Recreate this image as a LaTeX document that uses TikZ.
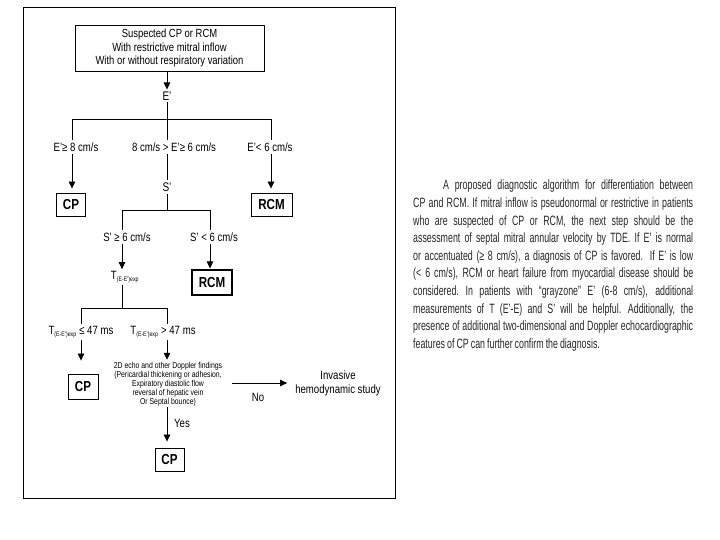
\documentclass[tikz,border=0pt]{standalone}
\usepackage{fontspec}
\setmainfont{Liberation Sans}
\newfontfamily\nar{Liberation Sans}[FakeStretch=0.8]
\newfontfamily\para{Liberation Sans}[FakeStretch=0.655]
\usetikzlibrary{arrows.meta}
\newcommand{\jline}[2][280pt]{{\spaceskip=0.15em plus 1fil\relax\makebox[#1][s]{#2}}\par}
\begin{document}
\begin{tikzpicture}[x=1pt,y=-1pt,
  lbl/.style={font=\nar\fontsize{12}{14}\selectfont, inner sep=2pt},
  res/.style={draw, line width=0.9pt, font=\nar\bfseries\fontsize{14.5}{16}\selectfont, minimum height=23pt, inner sep=0pt},
  arr/.style={-{Triangle[length=7pt,width=6.5pt]}, line width=0.7pt},
  ln/.style={line width=0.7pt}]
\useasboundingbox (0,0) rectangle (720,540);
\fill[white] (0,0) rectangle (720,540);
\draw[line width=0.8pt] (23,7) rectangle (395,498);

\node[draw, line width=0.8pt, minimum width=189pt, minimum height=46pt, align=center,
  font=\nar\fontsize{11.8}{13.5}\selectfont, inner sep=0pt] (top) at (169.5,48)
  {Suspected CP or RCM\\With restrictive mitral inflow\\With or without respiratory variation};

\node[lbl, font=\nar\fontsize{12.5}{14}\selectfont] (E) at (167,96) {E’};
\coordinate (j1) at (167,119);
\coordinate (j1l) at (72,119);
\coordinate (j1r) at (271,119);
\node[lbl] (c1) at (76,147) {E’≥ 8 cm/s};
\node[lbl] (c2) at (174,147) {8 cm/s > E’≥ 6 cm/s};
\node[lbl] (c3) at (270,147) {E’< 6 cm/s};
\node[res, minimum width=29pt] (cp1) at (71,204.5) {CP};
\node[res, minimum width=41pt] (rcm1) at (271.5,204.5) {RCM};
\node[lbl, font=\nar\fontsize{12.5}{14}\selectfont] (S) at (167,187) {S’};

\draw[arr] (top.south -| E) -- (E.north);
\draw[ln] (E.south) -- (j1);
\draw[ln] (j1l) -- (j1r);
\draw[ln] (j1l) -- (c1.north -| j1l);
\draw[ln] (j1r) -- (c3.north -| j1r);
\draw[ln] (j1) -- (c2.north -| j1);
\draw[arr, shorten >=4pt] (c1.south -| j1l) -- (cp1.north -| j1l);
\draw[arr, shorten >=4pt] (c3.south -| j1r) -- (rcm1.north -| j1r);
\draw[ln] (c2.south -| j1) -- (S.north);

\coordinate (j2) at (167,210);
\coordinate (j2l) at (122,210);
\coordinate (j2r) at (210,210);
\node[lbl] (s1) at (127,237) {S’ ≥ 6 cm/s};
\node[lbl] (s2) at (214,237) {S’ < 6 cm/s};
\node[lbl] (T) at (125,277) {T\textsubscript{\fontsize{6.5}{7}\selectfont(E-E’)exp}};
\node[res, minimum width=40pt, minimum height=25pt, line width=1.1pt] (rcm2) at (212,282.5) {RCM};

\draw[ln] (S.south) -- (j2);
\draw[ln] (j2l) -- (j2r);
\draw[ln] (j2l) -- (s1.north -| j2l);
\draw[ln] (j2r) -- (s2.north -| j2r);
\draw[arr] (s1.south -| j2l) -- (T.north -| j2l);
\draw[arr, shorten >=1pt] (s2.south -| j2r) -- (rcm2.north -| j2r);

\coordinate (j3) at (122,308);
\coordinate (j3l) at (81,308);
\coordinate (j3r) at (167,308);
\node[lbl] (u1) at (81,332) {T\textsubscript{\fontsize{6.5}{7}\selectfont(E-E’)exp} ≤ 47 ms};
\node[lbl] (u2) at (163,332) {T\textsubscript{\fontsize{6.5}{7}\selectfont(E-E’)exp} > 47 ms};
\node[res, minimum width=30pt, minimum height=25pt] (cp3) at (83,386.5) {CP};

\draw[ln] (T.south -| j3) -- (j3);
\draw[ln] (j3l) -- (j3r);
\draw[ln] (j3l) -- (u1.north -| j3l);
\draw[ln] (j3r) -- (u2.north -| j3r);
\draw[arr, shorten >=13pt] (u1.south -| j3l) -- (cp3.north -| j3l);

\node[align=center, inner sep=1pt, font=\nar\fontsize{8.6}{8}\selectfont] (D) at (168,384)
  {2D echo and other Doppler findings\\(Pericardial thickening or adhesion,\\Expiratory diastolic flow\\reversal of hepatic vein\\Or Septal bounce)};
\draw[arr, shorten >=1pt] (u2.south -| j3r) -- (D.north -| j3r);

\node[align=center, inner sep=0pt, font=\nar\fontsize{12}{14}\selectfont] (inv) at (338,383)
  {Invasive\\hemodynamic study};
\coordinate (nostart) at (232,383);
\draw[arr] (nostart) -- ([xshift=-8pt]inv.west |- nostart);
\node[lbl, font=\nar\fontsize{12}{14}\selectfont] (no) at (258,397) {No};

\node[res, minimum width=29pt] (cp4) at (169.5,459.5) {CP};
\draw[arr, shorten >=6pt] (D.south -| j3r) -- (cp4.north -| j3r);
\node[lbl, font=\nar\fontsize{12}{14}\selectfont] (yes) at (182,423) {Yes};

\node[anchor=north west, inner sep=0pt, text width=280pt, font=\para\fontsize{13.5}{17.6}\selectfont,
  text=black!85] (txt) at (413,180)
  {\parindent=0pt
  \hspace*{30pt}\jline[250pt]{A proposed diagnostic algorithm for differentiation between}
  \jline{CP and RCM. If mitral inflow is pseudonormal or restrictive in patients}
  \jline{who are suspected of CP or RCM, the next step should be the}
  \jline{assessment of septal mitral annular velocity by TDE. If E’ is normal}
  \jline{or accentuated (≥ 8 cm/s), a diagnosis of CP is favored. If E’ is low}
  \jline{(< 6 cm/s), RCM or heart failure from myocardial disease should be}
  \jline{considered. In patients with “grayzone” E’ (6-8 cm/s), additional}
  \jline{measurements of T (E’-E) and S’ will be helpful. Additionally, the}
  \jline{presence of additional two-dimensional and Doppler echocardiographic}
  {\spaceskip=0.15em\relax features of CP can further confirm the diagnosis.}\par};
\end{tikzpicture}
\end{document}
